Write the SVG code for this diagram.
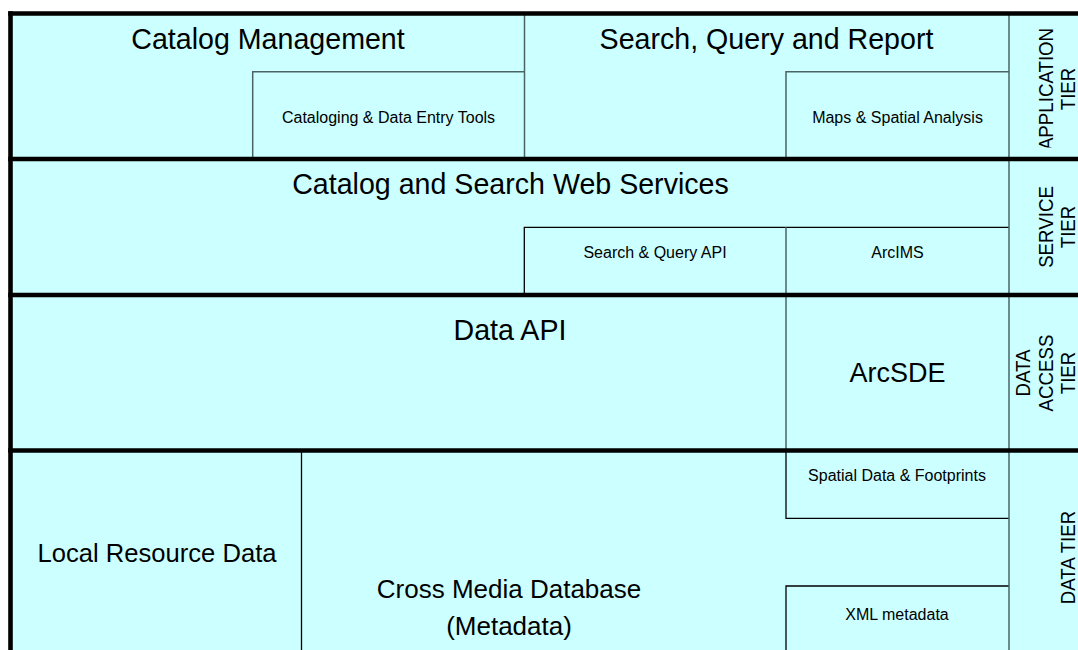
<svg xmlns="http://www.w3.org/2000/svg" width="1078" height="650" viewBox="0 0 1078 650">
<style>
  .bg { fill: #CCFFFF; }
  .thin { stroke: #000; stroke-width: 1.3; fill: none; }
  .gray { stroke: #4a6464; stroke-width: 1.5; fill: none; }
  .thick { stroke: #000; stroke-width: 4.6; fill: none; }
  text { font-family: "Liberation Sans", Arial, sans-serif; fill: #000; text-anchor: middle; }
  .big { font-size: 28.6px; }
  .mid { font-size: 26px; }
  .small { font-size: 16px; }
  .tier { font-size: 18.7px; }
</style>
<defs>
  <clipPath id="appClip"><rect x="1010" y="15" width="68" height="132.5"/></clipPath>
</defs>
<rect x="0" y="0" width="1078" height="650" fill="#FFFFFF"/>
<rect class="bg" x="10.5" y="13.5" width="1067.5" height="636.5"/>

<g id="application-tier">
  <g id="catalog-management">
    <text class="big" x="268" y="49">Catalog Management</text>
  </g>
  <g id="cataloging-tools">
    <path class="gray" d="M252.7,159 V71.7 H524.5"/>
    <text class="small" x="388.5" y="122.7">Cataloging &amp; Data Entry Tools</text>
  </g>
  <g id="search-query-report">
    <line class="gray" x1="524.5" y1="13.5" x2="524.5" y2="159"/>
    <text class="big" x="766.5" y="49">Search, Query and Report</text>
  </g>
  <g id="maps-spatial">
    <path class="gray" d="M786,159 V71.7 H1009"/>
    <text class="small" x="897.5" y="122.7">Maps &amp; Spatial Analysis</text>
  </g>
</g>

<g id="service-tier">
  <g id="catalog-search-web-services">
    <text class="big" x="510.5" y="194">Catalog and Search Web Services</text>
  </g>
  <g id="search-query-api">
    <path class="thin" d="M524.3,295 V227.3 H786"/>
    <text class="small" x="655" y="258.3">Search &amp; Query API</text>
  </g>
  <g id="arcims">
    <path class="thin" d="M786,227.3 H1009"/>
    <line class="gray" x1="786" y1="227.3" x2="786" y2="295"/>
    <text class="small" x="897.5" y="258.3">ArcIMS</text>
  </g>
</g>

<g id="data-access-tier">
  <g id="data-api">
    <text class="big" x="510" y="340">Data API</text>
  </g>
  <g id="arcsde">
    <line class="gray" x1="786" y1="295" x2="786" y2="450.5"/>
    <text class="mid" x="897.5" y="382" style="font-size:27px">ArcSDE</text>
  </g>
</g>

<g id="data-tier">
  <g id="local-resource-data">
    <line class="thin" x1="301.5" y1="450.5" x2="301.5" y2="650"/>
    <text class="mid" x="157" y="561.7" style="font-size:25.6px">Local Resource Data</text>
  </g>
  <g id="cross-media-database">
    <text class="mid" x="509" y="598">Cross Media Database</text>
    <text class="mid" x="509" y="635">(Metadata)</text>
  </g>
  <g id="spatial-data-footprints">
    <path class="thin" d="M786,450.5 V518.3 H1009"/>
    <text class="small" x="897" y="480.7">Spatial Data &amp; Footprints</text>
  </g>
  <g id="xml-metadata">
    <path class="thin" d="M786,650 V586 H1009"/>
    <text class="small" x="897" y="620">XML metadata</text>
  </g>
</g>

<g id="tier-labels">
  <line class="gray" x1="1009" y1="13.5" x2="1009" y2="650"/>
  <g id="label-application" clip-path="url(#appClip)">
    <text class="tier" transform="translate(1053.3,89) rotate(-90) scale(1,1.12)">APPLICATION</text>
    <text class="tier" transform="translate(1075,89) rotate(-90) scale(1,1.12)">TIER</text>
  </g>
  <g id="label-service">
    <text class="tier" transform="translate(1053.3,227) rotate(-90) scale(1,1.12)">SERVICE</text>
    <text class="tier" transform="translate(1075,227) rotate(-90) scale(1,1.12)">TIER</text>
  </g>
  <g id="label-data-access">
    <text class="tier" transform="translate(1029.5,373) rotate(-90) scale(1,1.12)">DATA</text>
    <text class="tier" transform="translate(1053.3,373) rotate(-90) scale(1,1.12)">ACCESS</text>
    <text class="tier" transform="translate(1075,373) rotate(-90) scale(1,1.12)">TIER</text>
  </g>
  <g id="label-data">
    <text class="tier" transform="translate(1075,557.5) rotate(-90) scale(1,1.12)">DATA TIER</text>
  </g>
</g>

<g id="connectors">
  <line class="thick" x1="8.2" y1="13.5" x2="1078" y2="13.5"/>
  <line class="thick" x1="10.5" y1="11.2" x2="10.5" y2="650"/>
  <line class="thick" x1="8.2" y1="159" x2="1078" y2="159"/>
  <line class="thick" x1="8.2" y1="295" x2="1078" y2="295"/>
  <line class="thick" x1="8.2" y1="450.5" x2="1078" y2="450.5"/>
</g>
</svg>
